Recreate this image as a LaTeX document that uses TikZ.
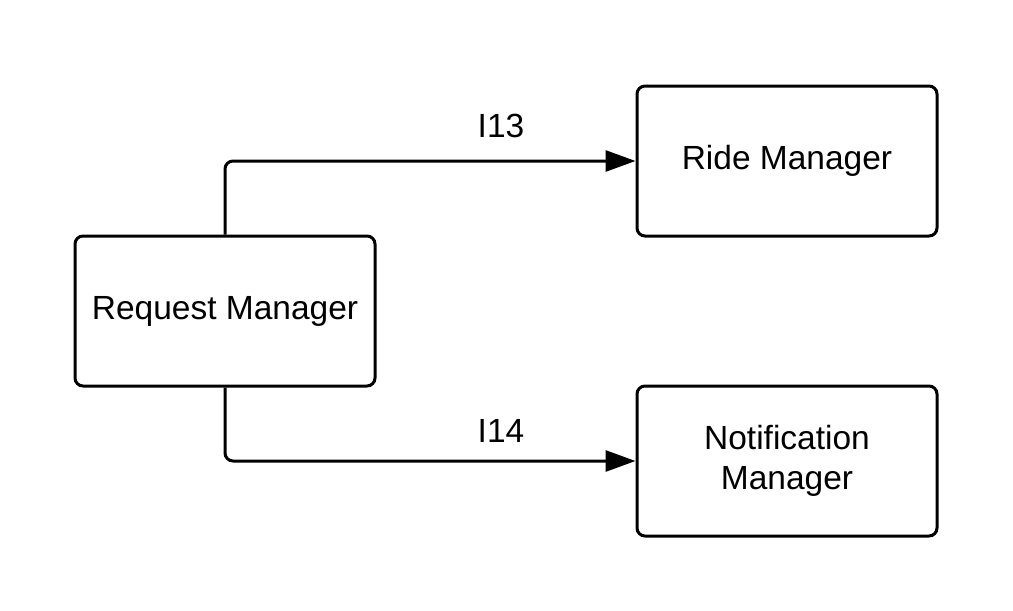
\documentclass[tikz,border=0pt]{standalone}
\usepackage{fontspec}
\setmainfont{Liberation Sans}
\usetikzlibrary{arrows.meta}
\newcommand{\boxfont}{\fontsize{33.5}{40.5}\selectfont}
\tikzset{
  managerbox/.style={draw, line width=3pt, rounded corners=8pt,
    minimum width=300pt, minimum height=150pt, align=center, font=\boxfont},
  flowline/.style={line width=3pt, rounded corners=8pt,
    -{Triangle[length=30pt,width=21pt]}},
  flowlabel/.style={font=\boxfont}
}

\begin{document}
\begin{tikzpicture}[x=1pt,y=-1pt]
\useasboundingbox (0,0) rectangle (1013,611);
\node[managerbox] (request) at (225,311) {Request Manager};
    \node[managerbox] (ride) at (787,161) {Ride Manager};
    \node[managerbox] (notify) at (787,461) {Notification\\Manager};
\draw[flowline] (request.north) |- (ride.west);
    \draw[flowline] (request.south) |- (notify.west);
\node[flowlabel] (i13) at (501,126) {I13};\node[flowlabel] (i14) at (501,431) {I14};
\end{tikzpicture}
\end{document}
